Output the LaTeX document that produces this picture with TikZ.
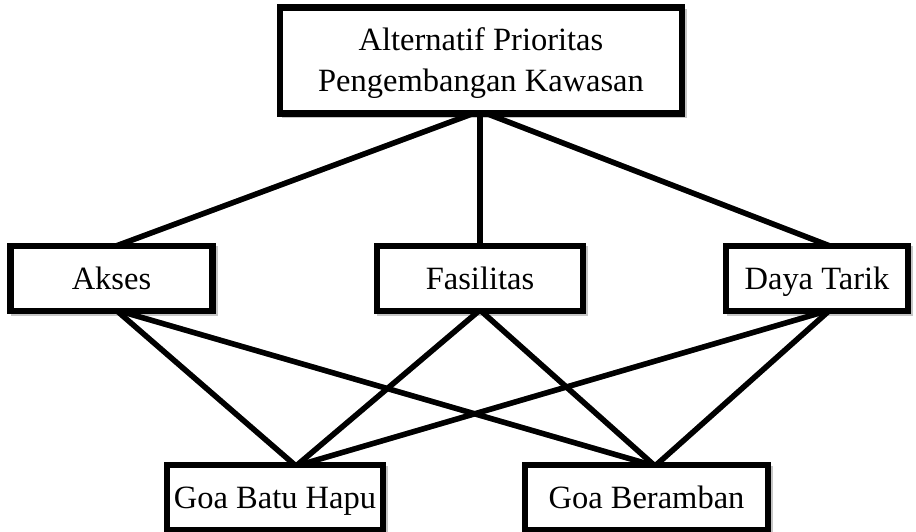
\documentclass[tikz,border=0pt]{standalone}
\usepackage{fontspec}
\setmainfont{Liberation Serif}
\begin{document}
\begin{tikzpicture}[x=1pt,y=-1pt,
  box/.style={draw=black,line width=6.5pt,fill=white,inner sep=0pt,font=\fontsize{32.5}{41}\selectfont,align=center,text height=21.5pt,text depth=0pt},
  conn/.style={line width=5.5pt,black},
  shad/.style={line width=5.5pt,gray!60},
  bshad/.style={draw=gray!45,line width=6pt}]
\useasboundingbox (0,0) rectangle (916,531);
% shadows of boxes
\draw[bshad] (284.5,11.5) rectangle (683.5,114.5);
\draw[bshad] (13.5,248.5) rectangle (214.5,312.5);
\draw[bshad] (379.5,248.5) rectangle (584.5,312.5);
\draw[bshad] (729.5,248.5) rectangle (909.5,312.5);
\draw[bshad] (170.5,468.5) rectangle (384.5,534);
\draw[bshad] (528.5,468.5) rectangle (769.5,534);
% anchor coordinates
\coordinate (tS) at (480,111);
\coordinate (aN) at (116,246);
\coordinate (fN) at (480,246);
\coordinate (dN) at (830,246);
\coordinate (aS) at (116,310);
\coordinate (fS) at (480,310);
\coordinate (dS) at (830,310);
\coordinate (gN) at (296,466);
\coordinate (bN) at (655,466);
% connector shadows
\begin{scope}[shift={(2.5,2.5)}]
\draw[shad] (tS) -- (aN);
\draw[shad] (tS) -- (dN);
\foreach \s in {aS,fS,dS}{\draw[shad] (\s) -- (gN); \draw[shad] (\s) -- (bN);}
\end{scope}
% connectors
\draw[conn] (tS) -- (aN);
\draw[conn] (tS) -- (fN);
\draw[conn] (tS) -- (dN);
\foreach \s in {aS,fS,dS}{\draw[conn] (\s) -- (gN); \draw[conn] (\s) -- (bN);}
% boxes
\node[box,text height=62.5pt,minimum width=402pt,minimum height=106pt] (top) at (481,60.5) {Alternatif Prioritas\\Pengembangan Kawasan};
\node[box,minimum width=202pt,minimum height=65pt] (akses) at (111.5,278.5) {Akses};
\node[box,minimum width=206pt,minimum height=65pt] (fas) at (480,278.5) {Fasilitas};
\node[box,minimum width=182pt,minimum height=65pt] (daya) at (817,278.5) {Daya Tarik};
\node[box,minimum width=216pt,minimum height=65pt] (goa1) at (275,497.5) {Goa Batu Hapu};
\node[box,minimum width=243pt,minimum height=65pt] (goa2) at (646.5,497.5) {Goa Beramban};
\end{tikzpicture}
\end{document}
